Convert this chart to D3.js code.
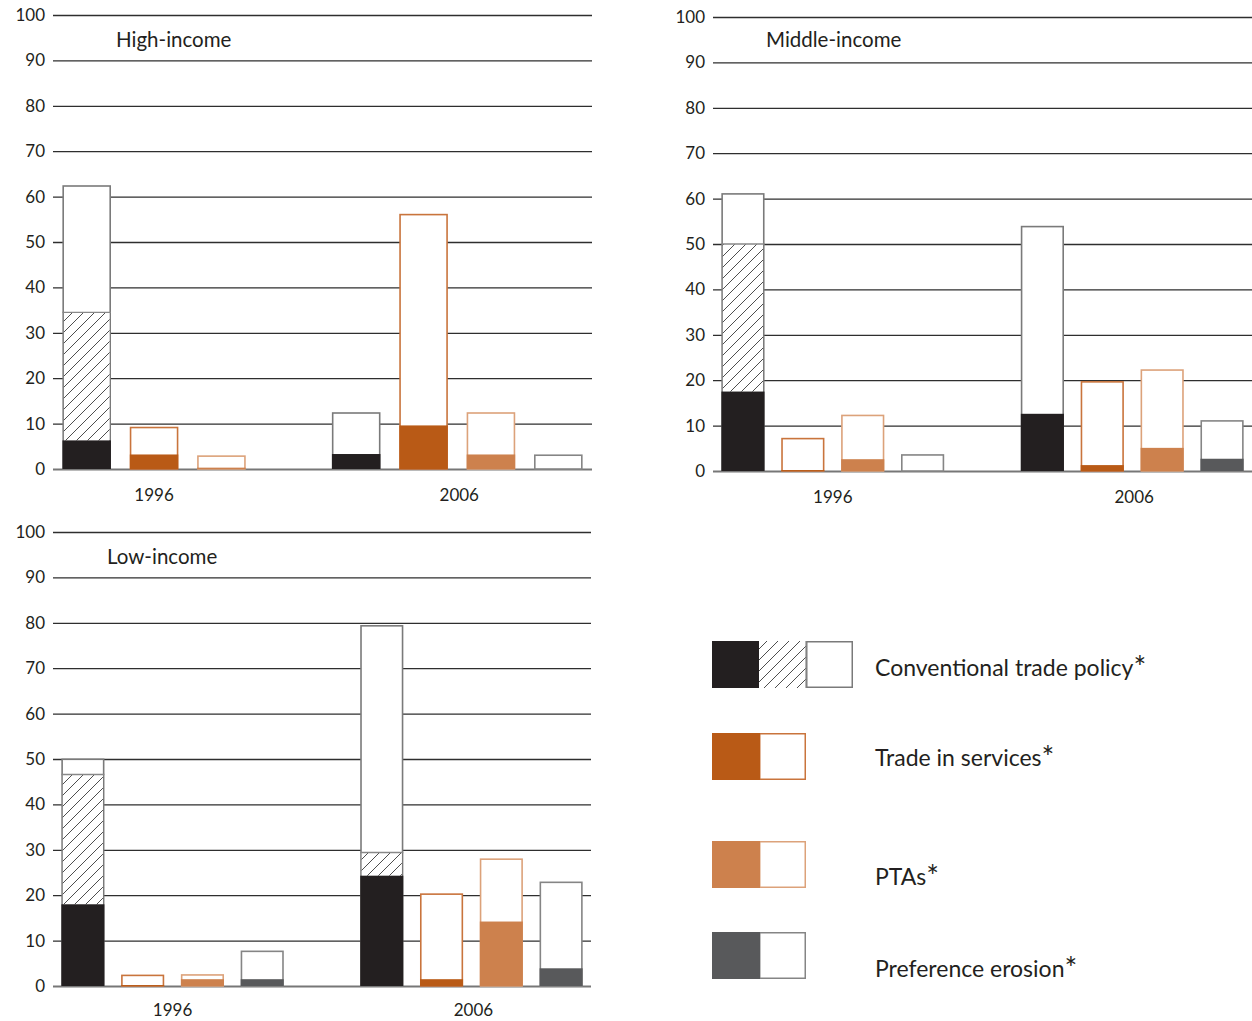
<!DOCTYPE html>
<html><head><meta charset="utf-8">
<script src="https://cdn.jsdelivr.net/npm/d3@7"></script>
<style>
html,body{margin:0;padding:0;background:#fff;}
svg{display:block;}
text{font-family:Lato,"Open Sans",sans-serif;fill:#231f20;}
</style></head>
<body>
<svg id="chart" width="1252" height="1021"></svg>
<script>
// ---------- DATA ----------
const panelNames = ["High-income", "Middle-income", "Low-income"];
const years = ["1996", "2006"];
const seriesNames = ["Conventional trade policy", "Trade in services", "PTAs", "Preference erosion"];
const yTicks = [0, 10, 20, 30, 40, 50, 60, 70, 80, 90, 100];

// order: 1996 [conv, services, PTAs, erosion], 2006 [conv, services, PTAs, erosion]
const highSolid    = [6.3, 3.2, 0.3, null, 3.3, 9.6, 3.2, 0];
const highHatchTop = [34.5, null, null, null, null, null, null, null];
const highTotal    = [62.5, 9.3, 3.0, null, 12.5, 56.2, 12.5, 3.2];

const middleSolid    = [17.5, 0.2, 2.6, 0, 12.6, 1.3, 5.1, 2.7];
const middleHatchTop = [50.0, null, null, null, null, null, null, null];
const middleTotal    = [61.2, 7.3, 12.4, 3.7, 54.0, 19.8, 22.4, 11.2];

const lowSolid    = [18.0, 0.2, 1.5, 1.5, 24.3, 1.5, 14.2, 3.9];
const lowHatchTop = [46.6, null, null, null, 29.4, null, null, null];
const lowTotal    = [50.1, 2.5, 2.6, 7.8, 79.5, 20.4, 28.1, 23.0];

// ---------- STYLE / LAYOUT ----------
const solidColors = ["#231f20", "#b95a16", "#cd814d", "#58595b"];
const outlineColors = ["#7a7a7a", "#c9743c", "#dca27a", "#858585"];

const layouts = [
  {left: 53, right: 592, y0: 469, y100: 15, gapSlot: false, titleX: 116, titleY: 47, yearDy: 32},
  {left: 713, right: 1252, y0: 471, y100: 17, gapSlot: true, titleX: 766, titleY: 47, yearDy: 32},
  {left: 53, right: 591, y0: 986, y100: 532, gapSlot: true, titleX: 107, titleY: 564, yearDy: 30}
];
const panelData = [
  {solid: highSolid, hatch: highHatchTop, total: highTotal},
  {solid: middleSolid, hatch: middleHatchTop, total: middleTotal},
  {solid: lowSolid, hatch: lowHatchTop, total: lowTotal}
];

const svg = d3.select("#chart");
const defs = svg.append("defs");
const pat = defs.append("pattern").attr("id", "hatch")
  .attr("patternUnits", "userSpaceOnUse").attr("width", 11).attr("height", 11);
pat.append("rect").attr("width", 11).attr("height", 11).attr("fill", "#fff");
pat.append("path").attr("d", "M-1,12 L12,-1 M-3,3 L3,-3 M8,14 L14,8")
  .attr("stroke", "#3a3a3a").attr("stroke-width", 0.9);

panelNames.forEach((name, pi) => {
  const L = layouts[pi], D = panelData[pi];
  const g = svg.append("g");
  const y = d3.scaleLinear().domain([0, 100]).range([L.y0, L.y100]);

  // slots
  const keys = [];
  years.forEach((yr, yi) => {
    if (yi === 1 && L.gapSlot) keys.push("gap");
    seriesNames.forEach((s, si) => keys.push(yr + "|" + si));
  });
  const x = d3.scaleBand().domain(keys).range([L.left, L.right])
    .paddingInner(0.28).paddingOuter(0.14);
  const bw = x.bandwidth();

  // gridlines + tick labels
  const axis = d3.axisLeft(y).tickValues(yTicks).tickSize(-(L.right - L.left)).tickPadding(8).tickFormat(d3.format("d"));
  const ag = g.append("g").attr("transform", `translate(${L.left},0)`).call(axis);
  ag.select(".domain").remove();
  ag.selectAll(".tick line").attr("stroke", d => d === 0 ? "#777" : "#2e2e2e")
    .attr("stroke-width", d => d === 0 ? 2 : 1.3);
  ag.selectAll(".tick text").attr("font-size", 17).attr("fill", "#231f20")
    .attr("font-family", "Lato, sans-serif");

  // bars
  const bars = [];
  years.forEach((yr, yi) => {
    seriesNames.forEach((s, si) => {
      const i = yi * 4 + si;
      if (D.total[i] == null) return;
      bars.push({key: yr + "|" + si, yi, si, solid: D.solid[i], hatch: D.hatch[i], total: D.total[i]});
    });
  });
  const bg = g.append("g");
  bars.forEach(b => {
    const bx = x(b.key);
    bg.append("rect").attr("x", bx + 0.75).attr("width", bw - 1.5)
      .attr("y", y(b.total) + 0.75).attr("height", Math.max(0, y(0) - y(b.total) - 0.75))
      .attr("fill", "#fff").attr("stroke", outlineColors[b.si]).attr("stroke-width", 1.6);
    if (b.hatch != null) {
      bg.append("rect").attr("x", bx + 1.5).attr("width", bw - 3)
        .attr("y", y(b.hatch)).attr("height", y(b.solid) - y(b.hatch))
        .attr("fill", "url(#hatch)");
      bg.append("line").attr("x1", bx).attr("x2", bx + bw)
        .attr("y1", y(b.hatch)).attr("y2", y(b.hatch))
        .attr("stroke", "#888").attr("stroke-width", 1.4);
    }
    if (b.solid > 0) {
      bg.append("rect").attr("x", bx).attr("width", bw)
        .attr("y", y(b.solid)).attr("height", y(0) - y(b.solid))
        .attr("fill", solidColors[b.si]);
    }
  });

  // year labels
  years.forEach((yr, yi) => {
    const ys = bars.filter(b => b.yi === yi);
    const x0 = d3.min(ys, b => x(b.key)), x1 = d3.max(ys, b => x(b.key) + bw);
    g.append("text").attr("x", (x0 + x1) / 2 + (yi === 1 ? 2 : 0)).attr("y", L.y0 + L.yearDy)
      .attr("text-anchor", "middle").attr("font-size", 17).text(yr);
  });

  // title
  g.append("text").attr("x", L.titleX).attr("y", L.titleY)
    .attr("font-size", 20.5).text(name);
});

// ---------- LEGEND ----------
const legendY = [641, 733, 841, 932];
const legendTextY = [676, 766, 885, 977];
const lg = svg.append("g");
seriesNames.forEach((s, si) => {
  const ly = legendY[si];
  const sz = 47;
  if (si === 0) {
    lg.append("rect").attr("x", 806.75).attr("y", ly + 0.75).attr("width", sz - 1.5).attr("height", sz - 1.5)
      .attr("fill", "#fff").attr("stroke", outlineColors[0]).attr("stroke-width", 1.5);
    lg.append("rect").attr("x", 759).attr("y", ly).attr("width", sz).attr("height", sz).attr("fill", "url(#hatch)");
    lg.append("line").attr("x1", 806).attr("x2", 806).attr("y1", ly).attr("y2", ly + sz).attr("stroke", "#888").attr("stroke-width", 1.2);
    lg.append("rect").attr("x", 712).attr("y", ly).attr("width", sz).attr("height", sz).attr("fill", solidColors[0]);
  } else {
    lg.append("rect").attr("x", 759.75).attr("y", ly + 0.75).attr("width", sz - 1.5).attr("height", sz - 1.5)
      .attr("fill", "#fff").attr("stroke", outlineColors[si]).attr("stroke-width", 1.5);
    lg.append("rect").attr("x", 712).attr("y", ly).attr("width", 48).attr("height", sz).attr("fill", solidColors[si]);
  }
  const t = lg.append("text").attr("x", 875).attr("y", legendTextY[si]).attr("font-size", 23);
  t.append("tspan").text(s);
  t.append("tspan").attr("dy", 2).attr("font-size", 30).text("*");
});
</script>
</body></html>
